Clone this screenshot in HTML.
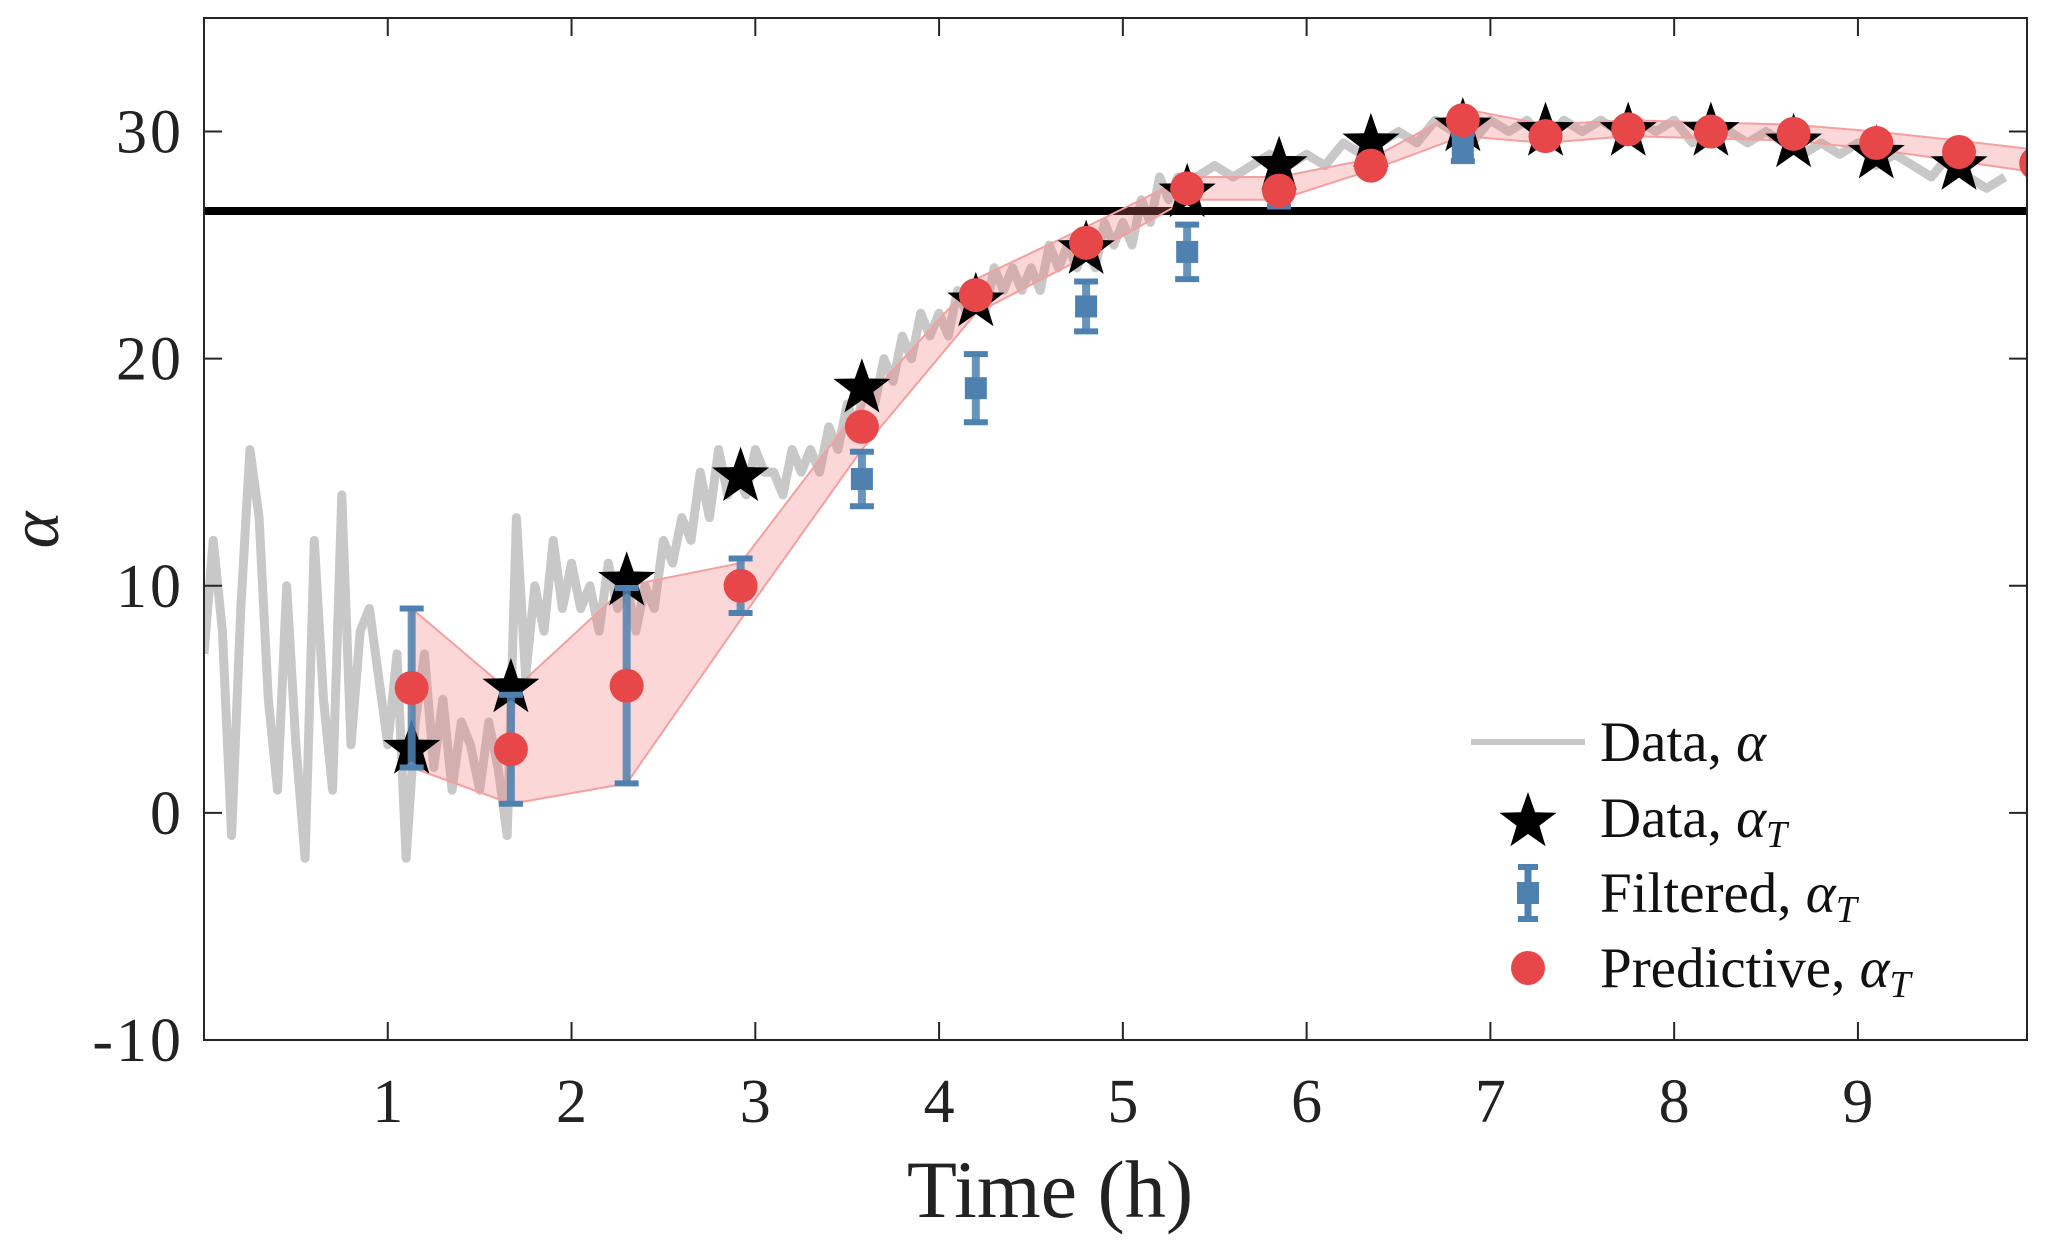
<!DOCTYPE html>
<html><head><meta charset="utf-8"><style>
html,body{margin:0;padding:0;background:#fff;}
svg{display:block;font-family:"Liberation Serif",serif;}
</style></head><body>
<svg id="chart" width="2067" height="1250" viewBox="0 0 2067 1250" xmlns="http://www.w3.org/2000/svg"></svg>
<script>
const rawT=[0,0.05,0.1,0.15,0.2,0.25,0.3,0.35,0.4,0.45,0.5,0.55,0.6,0.65,0.7,0.75,0.8,0.85,0.9,0.95,1.0,1.05,1.1,1.15,1.2,1.25,1.3,1.35,1.4,1.45,1.5,1.55,1.6,1.65,1.7,1.75,1.8,1.85,1.9,1.95,2.0,2.05,2.1,2.15,2.2,2.25,2.3,2.35,2.4,2.45,2.5,2.55,2.6,2.65,2.7,2.75,2.8,2.85,2.9,2.95,3.0,3.05,3.1,3.15,3.2,3.25,3.3,3.35,3.4,3.45,3.5,3.55,3.6,3.65,3.7,3.75,3.8,3.85,3.9,3.95,4.0,4.05,4.1,4.15,4.2,4.25,4.3,4.35,4.4,4.45,4.5,4.55,4.6,4.65,4.7,4.75,4.8,4.85,4.9,4.95,5.0,5.05,5.1,5.15,5.2,5.25,5.3,5.35,5.4,5.5,5.6,5.7,5.8,5.9,6.0,6.1,6.2,6.3,6.4,6.5,6.6,6.7,6.8,6.9,7.0,7.1,7.2,7.3,7.4,7.5,7.6,7.7,7.8,7.9,8.0,8.1,8.2,8.3,8.4,8.5,8.6,8.7,8.8,8.9,9.0,9.1,9.2,9.3,9.4,9.5,9.6,9.7,9.8,9.9];
const rawA=[7,12,8,-1,9,16,13,5,1,10,3,-2,12,5,1,14,3,8,9,6,3,7,-2,4,7,2,5,1,4,3,1,4,2,-1,13,6,10,8,12,9,11,9,10,8,11,9,10,8,10,9,12,11,13,12,15,13,16,14,15,14,16,15,15,14,16,15,16,15,17,16,18,17,19,18,20,19,21,20,22,21,22,21,23,22,23,22,24,23,24,23,24,23,25,24,25,24,25,24,26,25,26,25,27,26,28,27,28,27,28,28.5,28,28.5,29,28.5,29,28.5,29.5,29,29.5,30,29.5,30.5,30,29.5,30.5,30,30.5,29.5,30.5,30,30.5,30,30.5,30,30.5,29.5,30.5,30,29.5,30,29.5,29,29.5,29,29.5,28.5,29,28.5,28,29,28,27.5,28];
const times=[1.13,1.67,2.3,2.92,3.58,4.2,4.8,5.35,5.85,6.35,6.85,7.3,7.75,8.2,8.65,9.1,9.55,9.97];
const stars=[2.8,5.5,10.2,14.8,18.7,22.5,24.8,27.3,28.5,29.5,30.2,30.0,30.0,30.0,29.5,29.0,28.5,null];
const filtMean=[5.5,2.8,5.6,10.0,14.7,18.7,22.3,24.7,27.2,28.5,29.3,29.8,30.1,30.0,29.9,29.5,29.1,null];
const filtErr=[3.5,2.4,4.3,1.2,1.2,1.5,1.1,1.2,0.5,0.3,0.6,0.3,0.3,0.3,0.3,0.3,0.3,null];
const pred=[5.5,2.8,5.6,10.0,17.0,22.8,25.1,27.5,27.4,28.5,30.5,29.8,30.1,30.0,29.9,29.5,29.1,28.6];
const bandLo=[2,0.4,1.3,8.5,16,22,24.5,27,27,28.3,29.8,29.5,29.8,29.7,29.6,29.2,28.7,28.2];
const bandHi=[9,5.3,10,11,18,23.5,25.8,28,28,28.8,31,30.3,30.5,30.4,30.3,30,29.6,29.2];
const xTicks=[1,2,3,4,5,6,7,8,9];
const yTicks=[-10,0,10,20,30];
const yTickLabels=["-10","0","10","20","30"];
const refLine=26.5;

const L=204,R=2027,T=18,B=1040,XMIN=0,XMAX=9.92,YMIN=-10,YMAX=35;
const X=v=>L+(v-XMIN)/(XMAX-XMIN)*(R-L);
const Y=v=>B-(v-YMIN)/(YMAX-YMIN)*(B-T);
const svg=document.getElementById('chart');
const NS='http://www.w3.org/2000/svg';
function mk(tag,attrs,parent){const e=document.createElementNS(NS,tag);for(const k in attrs)e.setAttribute(k,attrs[k]);(parent||svg).appendChild(e);return e;}

const clip=mk('clipPath',{id:'clip'});mk('rect',{x:L,y:T,width:R-L,height:B-T},clip);
const plot=mk('g',{'clip-path':'url(#clip)'});



let d='';rawT.forEach((t,i)=>{d+=(i?'L':'M')+X(t).toFixed(1)+' '+Y(rawA[i]).toFixed(1);});
const raw=mk('path',{d:d,fill:'none',stroke:'#c8c8c8','stroke-width':9,'stroke-linejoin':'round'},plot);



const rl=mk('line',{x1:L,x2:R,y1:Y(refLine),y2:Y(refLine),stroke:'#000','stroke-width':8},plot);



let bd='';times.forEach((t,i)=>{bd+=(i?'L':'M')+X(t).toFixed(1)+' '+Y(bandHi[i]).toFixed(1);});
for(let i=times.length-1;i>=0;i--)bd+='L'+X(times[i]).toFixed(1)+' '+Y(bandLo[i]).toFixed(1);
bd+='Z';
const band=mk('path',{d:bd,fill:'rgba(240,110,110,0.28)',stroke:'#f4a0a0','stroke-width':2},plot);



function starPath(cx,cy,r){let p='';for(let k=0;k<10;k++){const a=-Math.PI/2+k*Math.PI/5;const rr=k%2?r*0.4:r;p+=(k?'L':'M')+(cx+rr*Math.cos(a)).toFixed(1)+' '+(cy+rr*Math.sin(a)).toFixed(1);}return p+'Z';}

times.forEach((t,i)=>{
  if(stars[i]!==null){const s=mk('path',{d:starPath(X(t),Y(stars[i]),30),fill:'#000'},plot);
    
    }
});
times.forEach((t,i)=>{
  if(filtMean[i]===null)return;
  const g=mk('g',{},plot);
  
  
  const x=X(t),y1=Y(filtMean[i]-filtErr[i]),y2=Y(filtMean[i]+filtErr[i]);
  mk('line',{x1:x,x2:x,y1:y1,y2:y2,stroke:'#4f81b0','stroke-width':8,'stroke-opacity':0.85},g);
  mk('line',{x1:x-12,x2:x+12,y1:y1,y2:y1,stroke:'#4f81b0','stroke-width':6},g);
  mk('line',{x1:x-12,x2:x+12,y1:y2,y2:y2,stroke:'#4f81b0','stroke-width':6},g);
  mk('rect',{x:x-11,y:Y(filtMean[i])-11,width:22,height:22,fill:'#4f81b0'},g);
});
times.forEach((t,i)=>{
  const c=mk('circle',{cx:X(t),cy:Y(pred[i]),r:17,fill:'#e8474a'},plot);
  
  
});

const box=mk('rect',{x:L,y:T,width:R-L,height:B-T,fill:'none',stroke:'#262626','stroke-width':2});


xTicks.forEach(v=>{
  mk('line',{x1:X(v),x2:X(v),y1:B,y2:B-18,stroke:'#262626','stroke-width':2});
  mk('line',{x1:X(v),x2:X(v),y1:T,y2:T+18,stroke:'#262626','stroke-width':2});
  const tx=mk('text',{x:X(v),y:B+82,'font-size':62,'text-anchor':'middle',fill:'#222'});
  tx.textContent=v;
  
  
});
yTicks.forEach((v,i)=>{
  mk('line',{x1:L,x2:L+18,y1:Y(v),y2:Y(v),stroke:'#262626','stroke-width':2});
  mk('line',{x1:R,x2:R-18,y1:Y(v),y2:Y(v),stroke:'#262626','stroke-width':2});
  const tx=mk('text',{x:184,y:Y(v)+21,'font-size':62,'letter-spacing':3,'text-anchor':'end',fill:'#222'});
  tx.textContent=yTickLabels[i];
  
  
});
const xt=mk('text',{x:1050,y:1217,'font-size':82,'text-anchor':'middle',fill:'#222'});
xt.textContent='Time (h)';


const yt=mk('text',{x:0,y:0,'font-size':70,'font-style':'italic','text-anchor':'middle',fill:'#222',transform:'translate(58,530) rotate(-90)'});
yt.textContent='α';



const lg=mk('g',{});


const rows=[742,818,893,968];
mk('line',{x1:1471,x2:1585,y1:rows[0],y2:rows[0],stroke:'#c8c8c8','stroke-width':6},lg);
mk('path',{d:starPath(1528,rows[1]+4,30),fill:'#000'},lg);
mk('line',{x1:1528,x2:1528,y1:rows[2]-26,y2:rows[2]+26,stroke:'#4f81b0','stroke-width':7},lg);
mk('line',{x1:1518,x2:1538,y1:rows[2]-26,y2:rows[2]-26,stroke:'#4f81b0','stroke-width':6},lg);
mk('line',{x1:1518,x2:1538,y1:rows[2]+26,y2:rows[2]+26,stroke:'#4f81b0','stroke-width':6},lg);
mk('rect',{x:1517,y:rows[2]-11,width:22,height:22,fill:'#4f81b0'},lg);
mk('circle',{cx:1528,cy:rows[3],r:17,fill:'#e8474a'},lg);
const labels=[['Data,  ','α',''],['Data,  ','α','T'],['Filtered,  ','α','T'],['Predictive,  ','α','T']];
labels.forEach((lb,i)=>{
  const t=mk('text',{x:1600,y:rows[i]+19,'font-size':57,fill:'#111','xml:space':'preserve'},lg);
  
  
  const a=mk('tspan',{},t);a.textContent=lb[0];
  const b=mk('tspan',{'font-style':'italic'},t);b.textContent=lb[1];
  if(lb[2]){const c=mk('tspan',{'font-style':'italic','font-size':38,dy:10},t);c.textContent=lb[2];}
});
</script>
</body></html>
